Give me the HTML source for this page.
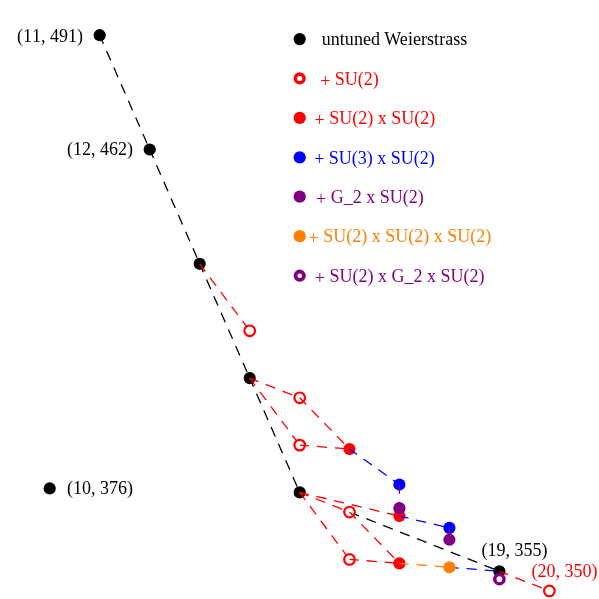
<!DOCTYPE html>
<html><head><meta charset="utf-8"><title>chart</title>
<style>
html,body{margin:0;padding:0;background:#fff;}
body{width:599px;height:599px;overflow:hidden;}
svg{display:block;will-change:transform;}
text{font-family:"Liberation Serif",serif;font-size:18px;}
.nk{font-kerning:none;}
</style></head><body>
<svg width="599" height="599" viewBox="0 0 599 599">
<rect width="599" height="599" fill="#fff"/>
<line x1="99.7" y1="35.2" x2="149.7" y2="149.5" stroke="#000000" stroke-width="1.3" stroke-dasharray="10.3 7.85" stroke-dashoffset="1.0"/>
<line x1="149.7" y1="149.5" x2="199.7" y2="263.81" stroke="#000000" stroke-width="1.3" stroke-dasharray="10.3 7.85" stroke-dashoffset="1.0"/>
<line x1="199.7" y1="263.81" x2="249.7" y2="378.11" stroke="#000000" stroke-width="1.3" stroke-dasharray="10.3 7.85" stroke-dashoffset="1.0"/>
<line x1="249.7" y1="378.11" x2="299.7" y2="492.41" stroke="#000000" stroke-width="1.3" stroke-dasharray="10.3 7.85" stroke-dashoffset="1.0"/>
<line x1="349.5" y1="512.07" x2="499.4" y2="571.24" stroke="#000000" stroke-width="1.3" stroke-dasharray="10.3 7.85" stroke-dashoffset="54.54"/>
<circle cx="99.7" cy="35.2" r="6.1" fill="#000000"/>
<circle cx="149.7" cy="149.5" r="6.1" fill="#000000"/>
<circle cx="199.7" cy="263.81" r="6.1" fill="#000000"/>
<circle cx="249.7" cy="378.11" r="6.1" fill="#000000"/>
<circle cx="299.7" cy="492.41" r="6.1" fill="#000000"/>
<circle cx="499.4" cy="571.24" r="6.1" fill="#000000"/>
<circle cx="49.7" cy="488.45" r="6.1" fill="#000000"/>
<line x1="199.7" y1="263.81" x2="249.7" y2="330.81" stroke="#ff0000" stroke-width="1.3" stroke-dasharray="10.3 7.85" stroke-dashoffset="1.0"/>
<line x1="249.7" y1="378.11" x2="299.7" y2="397.82" stroke="#ff0000" stroke-width="1.3" stroke-dasharray="10.3 7.85" stroke-dashoffset="1.0"/>
<line x1="249.7" y1="378.11" x2="299.7" y2="445.12" stroke="#ff0000" stroke-width="1.3" stroke-dasharray="10.3 7.85" stroke-dashoffset="1.0"/>
<line x1="299.7" y1="492.41" x2="349.5" y2="512.07" stroke="#ff0000" stroke-width="1.3" stroke-dasharray="10.3 7.85" stroke-dashoffset="1.0"/>
<line x1="299.7" y1="492.41" x2="349.5" y2="559.42" stroke="#ff0000" stroke-width="1.3" stroke-dasharray="10.3 7.85" stroke-dashoffset="1.0"/>
<line x1="499.4" y1="571.24" x2="549.4000000000001" y2="590.95" stroke="#ff0000" stroke-width="1.3" stroke-dasharray="10.3 7.85" stroke-dashoffset="1.0"/>
<circle cx="249.7" cy="330.81" r="5.3" fill="#fff" stroke="#ff0000" stroke-width="2.2"/>
<circle cx="299.7" cy="397.82" r="5.3" fill="#fff" stroke="#ff0000" stroke-width="2.2"/>
<circle cx="299.7" cy="445.12" r="5.3" fill="#fff" stroke="#ff0000" stroke-width="2.2"/>
<circle cx="349.5" cy="512.07" r="5.3" fill="#fff" stroke="#ff0000" stroke-width="2.2"/>
<circle cx="349.5" cy="559.42" r="5.3" fill="#fff" stroke="#ff0000" stroke-width="2.2"/>
<circle cx="549.4000000000001" cy="590.95" r="5.3" fill="#fff" stroke="#ff0000" stroke-width="2.2"/>
<line x1="299.7" y1="397.82" x2="349.5" y2="449.06" stroke="#ff0000" stroke-width="1.3" stroke-dasharray="10.3 7.85" stroke-dashoffset="1.0"/>
<line x1="299.7" y1="445.12" x2="349.5" y2="449.06" stroke="#ff0000" stroke-width="1.3" stroke-dasharray="10.3 7.85" stroke-dashoffset="1.0"/>
<line x1="349.5" y1="512.07" x2="399.4" y2="563.36" stroke="#ff0000" stroke-width="1.3" stroke-dasharray="10.3 7.85" stroke-dashoffset="1.0"/>
<line x1="349.5" y1="559.42" x2="399.4" y2="563.36" stroke="#ff0000" stroke-width="1.3" stroke-dasharray="10.3 7.85" stroke-dashoffset="1.0"/>
<line x1="299.7" y1="492.41" x2="399.4" y2="516.06" stroke="#ff0000" stroke-width="1.3" stroke-dasharray="10.3 7.85" stroke-dashoffset="1.0"/>
<circle cx="349.5" cy="449.06" r="6.1" fill="#ff0000"/>
<circle cx="399.4" cy="516.06" r="6.1" fill="#ff0000"/>
<circle cx="399.4" cy="563.36" r="6.1" fill="#ff0000"/>
<line x1="349.5" y1="449.06" x2="399.4" y2="484.53" stroke="#0000ff" stroke-width="1.3" stroke-dasharray="10.3 7.85" stroke-dashoffset="1.0"/>
<line x1="399.4" y1="516.06" x2="449.4" y2="527.89" stroke="#0000ff" stroke-width="1.3" stroke-dasharray="10.3 7.85" stroke-dashoffset="1.0"/>
<line x1="449.4" y1="567.3" x2="499.4" y2="571.24" stroke="#0000ff" stroke-width="1.3" stroke-dasharray="10.3 7.85" stroke-dashoffset="1.0"/>
<circle cx="399.4" cy="484.53" r="6.1" fill="#0000ff"/>
<circle cx="449.4" cy="527.89" r="6.1" fill="#0000ff"/>
<line x1="399.4" y1="484.53" x2="399.4" y2="508.18" stroke="#800080" stroke-width="1.3" stroke-dasharray="10.3 7.85" stroke-dashoffset="1.0"/>
<line x1="449.4" y1="527.89" x2="449.4" y2="539.71" stroke="#800080" stroke-width="1.3" stroke-dasharray="10.3 7.85" stroke-dashoffset="1.0"/>
<circle cx="399.4" cy="508.18" r="6.1" fill="#800080"/>
<circle cx="449.4" cy="539.71" r="6.1" fill="#800080"/>
<line x1="399.4" y1="563.36" x2="449.4" y2="567.3" stroke="#ff7f00" stroke-width="1.3" stroke-dasharray="10.3 7.85" stroke-dashoffset="1.0"/>
<circle cx="449.4" cy="567.3" r="6.1" fill="#ff7f00"/>
<circle cx="499.4" cy="579.13" r="4.6" fill="#fff" stroke="#800080" stroke-width="3.5"/>
<circle cx="299.7" cy="39.1" r="6.15" fill="#000000"/>
<circle cx="299.7" cy="78.4" r="4.35" fill="none" stroke="#ff0000" stroke-width="3.5"/>
<circle cx="299.7" cy="117.9" r="6.15" fill="#ff0000"/>
<circle cx="299.7" cy="157.3" r="6.15" fill="#0000ff"/>
<circle cx="299.7" cy="196.7" r="6.15" fill="#800080"/>
<circle cx="299.7" cy="236.15" r="6.15" fill="#ff7f00"/>
<circle cx="299.7" cy="275.7" r="4.2" fill="none" stroke="#800080" stroke-width="3.8"/>
<text style="letter-spacing:0.05px" x="321.7" y="45.4" fill="#000000" xml:space="preserve">untuned Weierstrass</text>
<text x="320.2" y="84.8" fill="#ff0000" xml:space="preserve"><tspan dy="1.7">+</tspan><tspan dy="-1.7"> SU(2)</tspan></text>
<text x="314.5" y="124.2" fill="#ff0000" xml:space="preserve"><tspan dy="1.7">+</tspan><tspan dy="-1.7"> SU(2) x SU(2)</tspan></text>
<text x="314.2" y="163.6" fill="#0000ff" xml:space="preserve"><tspan dy="1.7">+</tspan><tspan dy="-1.7"> SU(3) x SU(2)</tspan></text>
<text x="316.0" y="203.0" fill="#800080" xml:space="preserve"><tspan dy="1.7">+</tspan><tspan dy="-1.7"> G_2 x SU(2)</tspan></text>
<text x="308.6" y="242.4" fill="#ff7f00" xml:space="preserve"><tspan dy="1.7">+</tspan><tspan dy="-1.7"> SU(2) x SU(2) x SU(2)</tspan></text>
<text x="314.8" y="281.8" fill="#800080" xml:space="preserve"><tspan dy="1.7">+</tspan><tspan dy="-1.7"> SU(2) x G_2 x SU(2)</tspan></text>
<text class="nk" x="17" y="41.5" fill="#000000" xml:space="preserve">(11, 491)</text>
<text class="nk" x="67" y="154.8" fill="#000000" xml:space="preserve">(12, 462)</text>
<text class="nk" x="67" y="494" fill="#000000" xml:space="preserve">(10, 376)</text>
<text class="nk" x="481.5" y="556.2" fill="#000000" xml:space="preserve">(19, 355)</text>
<text class="nk" x="531.4" y="576.5" fill="#ff0000" xml:space="preserve">(20, 350)</text>
</svg>
</body></html>
